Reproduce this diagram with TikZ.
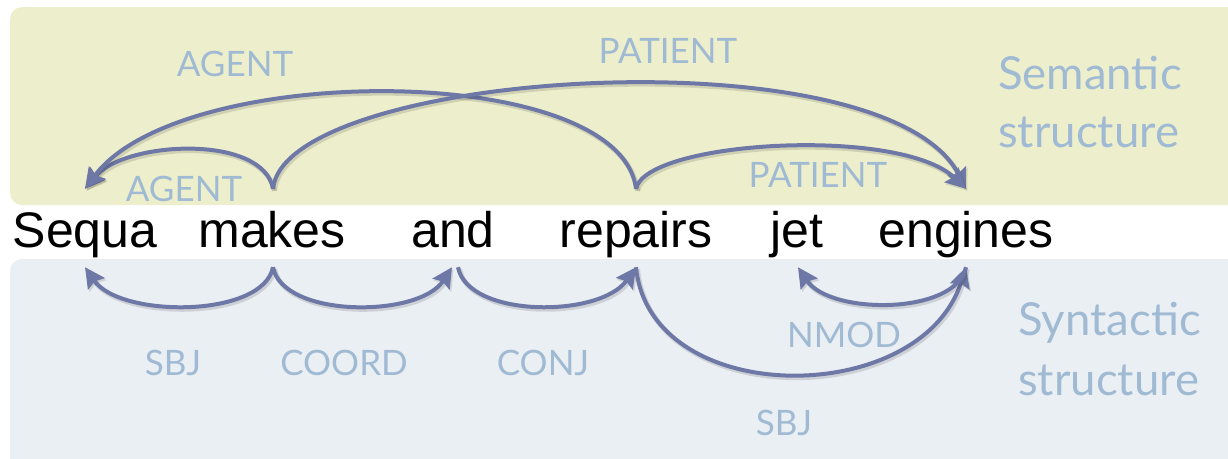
\documentclass[tikz,border=0pt]{standalone}
\usepackage{fontspec}
\setmainfont{Liberation Sans}
\newfontfamily\labfont{Lato}
\usetikzlibrary{arrows.meta}
\definecolor{semBg}{RGB}{237,239,204}
\definecolor{synBg}{RGB}{234,239,243}
\definecolor{arcCol}{RGB}{110,120,166}
\definecolor{labCol}{RGB}{160,186,212}
\tikzset{
  word/.style={inner sep=0pt, anchor=base, font=\fontsize{50}{60}\selectfont, text height=36pt, text depth=10pt},
  rel/.style={inner sep=0pt, anchor=base, text=labCol, font=\labfont\fontsize{35}{42}\selectfont},
  sidetitle/.style={inner sep=0pt, anchor=base west, text=labCol, font=\labfont\fontsize{45.5}{54}\selectfont},
  deparc/.style={draw=arcCol, line width=4pt, -{Stealth[length=20pt,width=20pt,inset=3pt]},
    preaction={draw=black, opacity=0.12, line width=5pt, transform canvas={shift={(1.5pt,-2pt)}}}},
  panel/.style={rounded corners=12pt, draw=none}
}
\begin{document}
\begin{tikzpicture}[x=1pt,y=-1pt]
\useasboundingbox (0,0) rectangle (1228,458);
\clip (0,0) rectangle (1228,458);
\fill[white] (0,0) rectangle (1228,458);
\fill[panel, fill=semBg] (10,7) rectangle (1260,205);
\fill[panel, fill=synBg] (10,259) rectangle (1260,480);

% words
\node[word] (Sequa) at (85,247) {Sequa};
\node[word] (makes) at (272,247) {makes};
\node[word] (and) at (453,247) {and};
\node[word] (repairs) at (636,247) {repairs};
\node[word] (jet) at (797,247) {jet};
\node[word] (engines) at (966,247) {engines};

% attachment points
\path (Sequa.north) ++(0,-22) coordinate (Sequa-t);
\path (makes.north) ++(1,-22) coordinate (makes-t);
\path (repairs.north) ++(0,-22) coordinate (repairs-t);
\path (engines.north) ++(0,-22) coordinate (engines-t);
\path (Sequa.south) ++(0,10) coordinate (Sequa-b);
\path (makes.south) ++(1,10) coordinate (makes-b);
\path (and.south) ++(-1,10) coordinate (and-bl);
\path (and.south) ++(5,10) coordinate (and-br);
\path (repairs.south) ++(0,10) coordinate (repairs-b);
\path (jet.south) ++(1,10) coordinate (jet-b);
\path (engines.south) ++(0,10) coordinate (engines-b);

% semantic arcs
\draw[deparc] (makes-t) .. controls +(-10,-55) and +(40,-48) .. (Sequa-t);
\draw[deparc] (repairs-t) .. controls +(-16,-128) and +(95,-128) .. (Sequa-t);
\draw[deparc] (makes-t) .. controls +(12,-119) and +(-81,-158) .. (engines-t);
\draw[deparc] (repairs-t) .. controls +(10,-48) and +(-66,-63) .. (engines-t);

% syntactic arcs
\draw[deparc] (makes-b) .. controls +(-10,51) and +(35,51) .. (Sequa-b);
\draw[deparc] (makes-b) .. controls +(10,51) and +(-33,51) .. (and-bl);
\draw[deparc] (and-br) .. controls +(10,51) and +(-36,51) .. (repairs-b);
\draw[deparc] (repairs-b) .. controls +(14,142) and +(-46,142) .. (engines-b);
\draw[deparc] (engines-b) .. controls +(-10,48) and +(32,48) .. (jet-b);

% relation labels
\node[rel] (lAgent1) at (235,76) {AGENT};
\node[rel] (lPatient1) at (668,63) {PATIENT};
\node[rel] (lAgent2) at (184,201) {AGENT};
\node[rel] (lPatient2) at (818,187) {PATIENT};
\node[rel] (lSbj1) at (173,375) {SBJ};
\node[rel] (lCoord) at (344,375) {COORD};
\node[rel] (lConj) at (543,375) {CONJ};
\node[rel] (lNmod) at (844,347) {NMOD};
\node[rel] (lSbj2) at (784,435) {SBJ};

% side titles
\node[sidetitle] (sem1) at (998,89) {Semantic};
\node[sidetitle] (sem2) at (998,147) {structure};
\node[sidetitle] (syn1) at (1018,335) {Syntactic};
\node[sidetitle] (syn2) at (1018,395) {structure};
\end{tikzpicture}
\end{document}
